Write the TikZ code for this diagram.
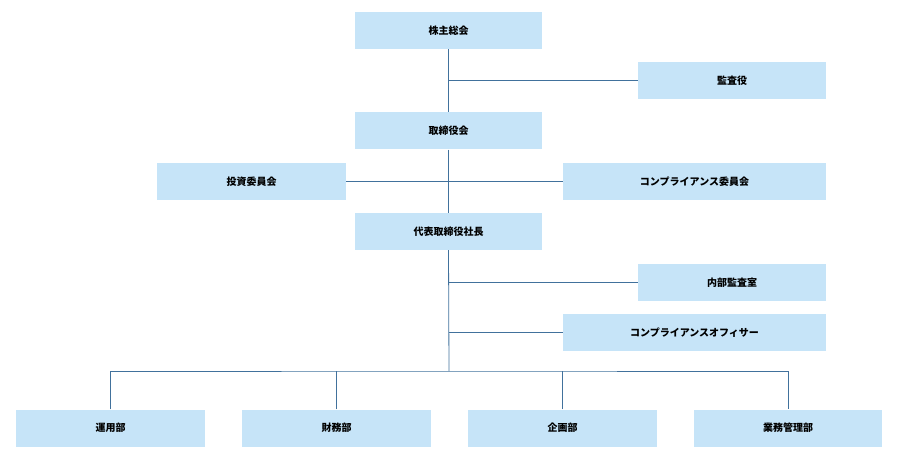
\documentclass[tikz,border=0pt]{standalone}
\usepackage{fontspec}
\newfontfamily\cjk{Noto Sans CJK JP}
\definecolor{boxfill}{HTML}{C6E4F8}
\definecolor{linec}{HTML}{41719C}
\begin{document}
\begin{tikzpicture}[x=1pt,y=-1pt,
  box/.style={fill=boxfill,draw=none,inner sep=0,minimum height=37pt,font=\cjk\bfseries\fontsize{10}{12}\selectfont},
  conn/.style={draw=linec,line width=0.8pt}]
\useasboundingbox (0,0) rectangle (897,465);
\node[box,minimum width=187pt] (a) at (448.5,30.5) {株主総会};
\node[box,minimum width=188pt] (b) at (732,80.5) {監査役};
\node[box,minimum width=187pt] (c) at (448.5,131) {取締役会};
\node[box,minimum width=189pt] (d) at (251.5,181.5) {投資委員会};
\node[box,minimum width=263pt] (e) at (694.5,181.5) {コンプライアンス委員会};
\node[box,minimum width=187pt] (f) at (448.5,231.5) {代表取締役社長};
\node[box,minimum width=188pt] (g) at (732,282.5) {内部監査室};
\node[box,minimum width=263pt] (h) at (694.5,332.5) {コンプライアンスオフィサー};
\node[box,minimum width=189pt] (i) at (110.5,428) {運用部};
\node[box,minimum width=189pt] (j) at (336.5,428) {財務部};
\node[box,minimum width=189pt] (k) at (562.5,428) {企画部};
\node[box,minimum width=188pt] (l) at (788,428) {業務管理部};
\coordinate (m) at (449,371);
\draw[conn] (a.south) -- (c.north);
\draw[conn] (c.south) -- (f.north);
\draw[conn] (f.south) -- (m);
\draw[conn] (449,80.5) -- (b.west);
\draw[conn] (d.east) -- (e.west);
\draw[conn] (449,282.5) -- (g.west);
\draw[conn] (449,332.5) -- (h.west);
\draw[conn] (i.north) |- (m) -| (l.north);
\draw[conn] (j.north) -- (j.north |- m);
\draw[conn] (k.north) -- (k.north |- m);
\end{tikzpicture}
\end{document}
